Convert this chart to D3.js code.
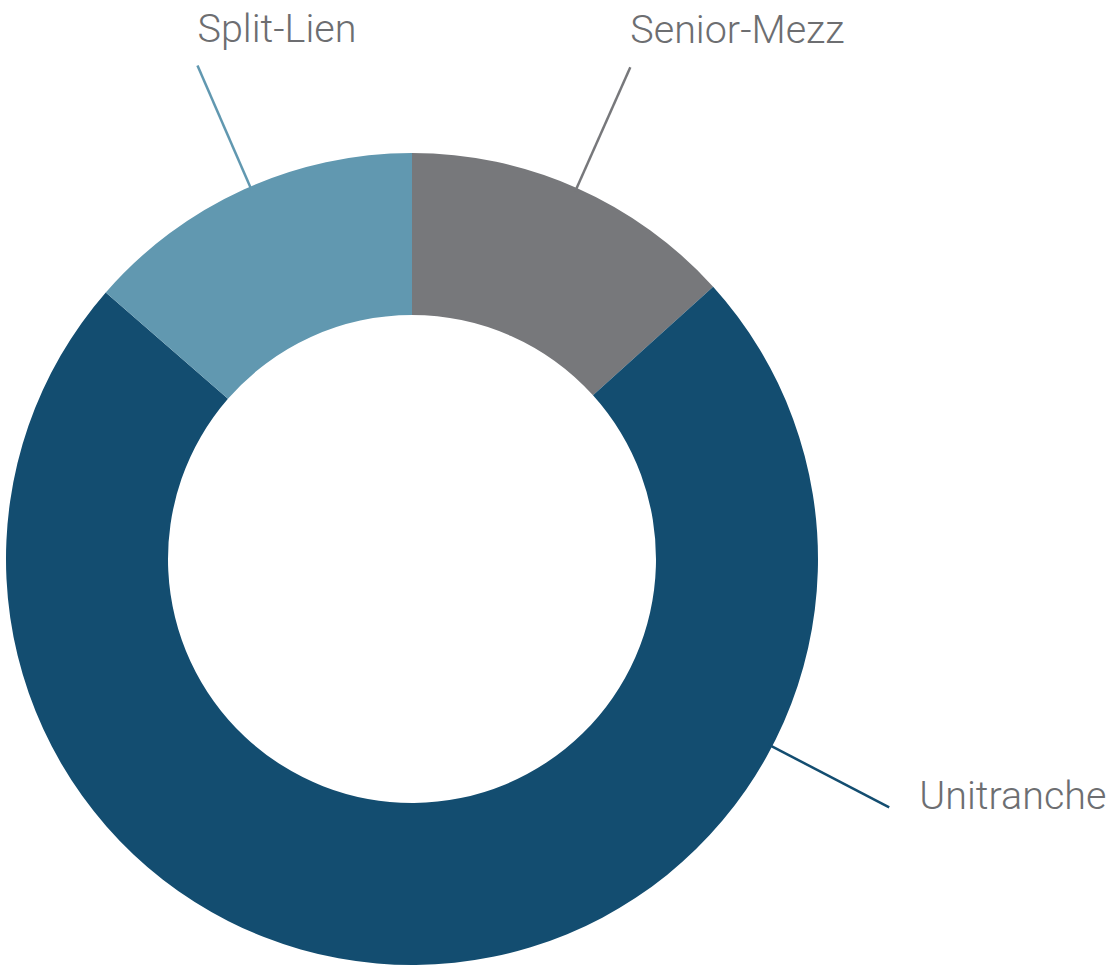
<!DOCTYPE html>
<html>
<head>
<meta charset="utf-8">
<script src="https://cdn.jsdelivr.net/npm/d3@7/dist/d3.min.js"></script>
<style>
  body { margin: 0; background: #fff; }
  svg { display: block; }
</style>
</head>
<body>
<script>
// slice data, clockwise from 12 o'clock
var categories = ["Senior-Mezz", "Unitranche", "Split-Lien"];
var shares = [13.3, 73.1, 13.6];
var colors = ["#77787b", "#134d70", "#6198b0"];

var dataset = categories.map(function(c, i) { return {name: c, value: shares[i], color: colors[i]}; });

//Width and height
var w = 1114;
var h = 968;
var cx = 412, cy = 559;
var outerR = 406, innerR = 244;

// a couple of labels are nudged off their centroid angle
var labelAngle = {
    "Unitranche": 117.5 * Math.PI / 180,
    "Split-Lien": 336.5 * Math.PI / 180
};

var svg = d3.select("body")
            .append("svg")
            .attr("width", w)
            .attr("height", h);

var g = svg.append("g")
           .attr("transform", "translate(" + cx + "," + cy + ")");

var pie = d3.pie()
            .sort(null)
            .value(function(d) { return d.value; });

var arc = d3.arc()
            .innerRadius(innerR)
            .outerRadius(outerR);

var arcs = pie(dataset);

g.selectAll("path.slice")
 .data(arcs)
 .enter()
 .append("path")
 .attr("class", "slice")
 .attr("d", arc)
 .attr("fill", function(d) { return d.data.color; });

function angleOf(d) {
    var a = labelAngle[d.data.name];
    return a !== undefined ? a : (d.startAngle + d.endAngle) / 2;
}
function pt(a, r) { return [r * Math.sin(a), -r * Math.cos(a)]; }
function isSide(d) { var a = angleOf(d); return a > Math.PI / 2 && a < Math.PI; }

//leader lines
g.selectAll("line.leader")
 .data(arcs)
 .enter()
 .append("line")
 .attr("class", "leader")
 .attr("x1", function(d) { return pt(angleOf(d), outerR - 4)[0]; })
 .attr("y1", function(d) { return pt(angleOf(d), outerR - 4)[1]; })
 .attr("x2", function(d) { return pt(angleOf(d), outerR + 132)[0]; })
 .attr("y2", function(d) { return pt(angleOf(d), outerR + 132)[1]; })
 .attr("stroke", function(d) { return d.data.color; })
 .attr("stroke-width", 2.5);

//labels
g.selectAll("text.label")
 .data(arcs)
 .enter()
 .append("text")
 .attr("class", "label")
 .attr("x", function(d) {
     var p = pt(angleOf(d), outerR + 132);
     return isSide(d) ? p[0] + 30 : p[0];
 })
 .attr("y", function(d) {
     var p = pt(angleOf(d), outerR + 132);
     return isSide(d) ? p[1] + 2 : p[1] - 24;
 })
 .attr("text-anchor", "start")
 .style("font-family", "Roboto, sans-serif")
 .style("font-weight", 300)
 .style("font-size", "39.5px")
 .style("fill", "#6d6e71")
 .text(function(d) { return d.data.name; });
</script>
</body>
</html>
